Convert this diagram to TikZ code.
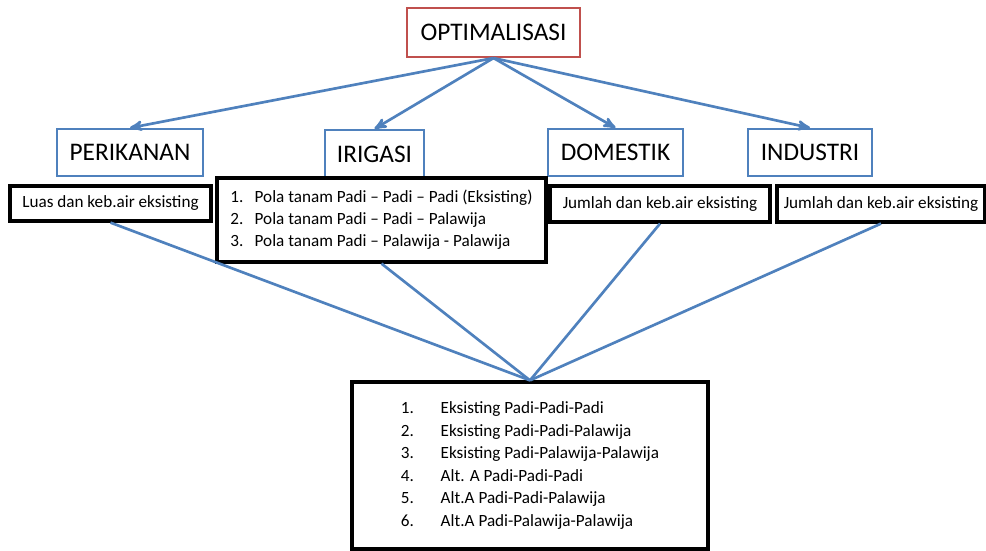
\documentclass[tikz,border=0pt]{standalone}
\usepackage{fontspec}
\setmainfont{Carlito}
\usetikzlibrary{arrows,shapes,calc}
\definecolor{optred}{RGB}{192,80,77}
\definecolor{linkblue}{RGB}{79,129,189}
\tikzset{
    >=stealth',
    titlebox/.style={draw=optred, line width=1.5pt, fill=white, inner sep=0pt,
        font=\fontsize{18}{22}\selectfont},
    sectorbox/.style={draw=linkblue, line width=1.6pt, fill=white, inner sep=0pt,
        font=\fontsize{18}{22}\selectfont},
    databox/.style={draw=black, line width=2.3pt, fill=white, inner sep=0pt,
        font=\fontsize{12.2}{16}\selectfont},
    link/.style={draw=linkblue, line width=1.9pt},
}

\begin{document}
\begin{tikzpicture}[x=0.025cm, y=-0.025cm]
            \useasboundingbox (0,0) rectangle (986,551);

            \node[titlebox, minimum width=4.325cm, minimum height=1.225cm] (opt) at (493.5,32.5) {OPTIMALISASI};

            \node[sectorbox, minimum width=3.65cm, minimum height=1.175cm] (per) at (130,152.5) {PERIKANAN};
            \node[sectorbox, minimum width=2.475cm, minimum height=1.2cm] (iri) at (374.5,154) {IRIGASI};
            \node[sectorbox, minimum width=3.375cm, minimum height=1.175cm] (dom) at (615.5,152.5) {DOMESTIK};
            \node[sectorbox, minimum width=3.1cm, minimum height=1.175cm] (ind) at (810,152.5) {INDUSTRI};

            \node[databox, minimum width=5.025cm, minimum height=0.875cm] (luas) at (110.5,203.5) {Luas dan keb.air eksisting};
            \node[databox, minimum width=8.225cm, minimum height=2.1cm] (pola) at (381.5,220) {%
                \begin{tabular}{@{}l@{\hspace{8pt}}l@{}}
                1. & Pola tanam Padi – Padi – Padi (Eksisting)\\
                2. & Pola tanam Padi – Padi – Palawija\\
                3. & Pola tanam Padi – Palawija - Palawija
                \end{tabular}};
            \node[databox, minimum width=5.5cm, minimum height=0.9cm] (jdom) at (660,204) {Jumlah dan keb.air eksisting};
            \node[databox, minimum width=5.2cm, minimum height=0.9cm] (jind) at (881,204) {Jumlah dan keb.air eksisting};

            \node[databox, minimum width=8.9cm, minimum height=4.175cm] (hasil) at (530,465.5) {%
                \begin{tabular}{@{}l@{\hspace{19pt}}l@{}}
                1. & Eksisting Padi-Padi-Padi\\
                2. & Eksisting Padi-Padi-Palawija\\
                3. & Eksisting Padi-Palawija-Palawija\\
                4. & Alt. A Padi-Padi-Padi\\
                5. & Alt.A Padi-Padi-Palawija\\
                6. & Alt.A Padi-Palawija-Palawija
                \end{tabular}};

            \foreach \s in {per, iri, dom, ind}
                \draw[link, ->] (opt.south) -- (\s.north);
            \foreach \d in {luas, pola, jdom, jind}
                \draw[link] (\d.south) -- (hasil.north);
        \end{tikzpicture}
\end{document}
